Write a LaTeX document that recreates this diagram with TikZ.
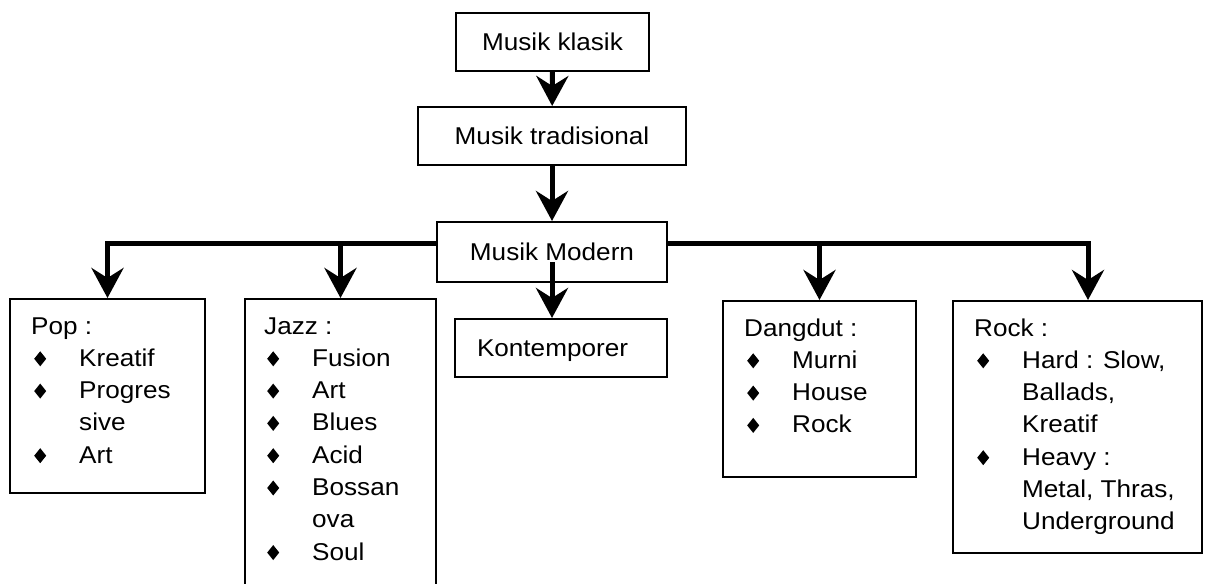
\documentclass[tikz,border=0pt]{standalone}
\usepackage{fontspec}
\usepackage{graphicx}
\setmainfont{Liberation Sans}[FakeStretch=1.075]
\usetikzlibrary{arrows.meta,calc}

% list helpers: diamond bullet, bulleted entry and indented continuation line
\newcommand\dmd{\scalebox{1}[1.25]{\rotatebox{45}{\rule{8.5pt}{8.5pt}}}}
\newcommand\bl[1]{\makebox[48pt][l]{\hspace{3pt}\dmd}#1}
\newcommand\cn[1]{\hspace{48pt}#1}

\tikzset{
  txt/.style={font=\fontsize{24.3}{32.3}\selectfont},
  box/.style={draw, line width=2pt, txt, text height=17.5pt, text depth=0pt,
              inner sep=0pt, minimum height=58pt},
  listbox/.style={draw, line width=2pt, inner sep=0pt},
  lst/.style={txt, inner sep=0pt, anchor=base west, align=left},
  arr/.style={line width=5pt,
              -{Stealth[length=30pt, width=32pt, inset=10pt]}},
}

\begin{document}
\begin{tikzpicture}[x=1pt, y=-1pt]
\useasboundingbox (0,0) rectangle (1211,584);
\clip (0,0) rectangle (1211,584);

% chain of main categories
\node[box, minimum width=193pt] (klasik) at (552.5,42) {Musik klasik};
\node[box, minimum width=268pt] (trad)   at (552,136)  {Musik tradisional};
\node[box, minimum width=230pt, minimum height=60pt] (modern) at (552,252) {Musik Modern};
\node[box, minimum width=212pt, text width=168pt, align=left, inner xsep=22pt]
     (kontemp) at (561,348) {Kontemporer};

% genre boxes
\node[listbox, minimum width=195pt, minimum height=194pt] (pop)     at (107.5,396) {};
\node[listbox, minimum width=191pt, minimum height=301pt] (jazz)    at (340.5,449.5) {};
\node[listbox, minimum width=193pt, minimum height=176pt] (dangdut) at (819.5,389) {};
\node[listbox, minimum width=249pt, minimum height=252pt] (rock)    at (1077.5,427) {};

\node[lst] (poptxt) at ($(pop.north west)+(22,36)$) {%
  \begin{tabular}[t]{@{}l@{}}
  Pop :\\ \bl{Kreatif}\\ \bl{Progres}\\ \cn{sive}\\ \bl{Art}
  \end{tabular}};
\node[lst] (jazztxt) at ($(jazz.north west)+(20,36)$) {%
  \begin{tabular}[t]{@{}l@{}}
  Jazz :\\ \bl{Fusion}\\ \bl{Art}\\ \bl{Blues}\\ \bl{Acid}\\ \bl{Bossan}\\ \cn{ova}\\ \bl{Soul}
  \end{tabular}};
\node[lst] (dangduttxt) at ($(dangdut.north west)+(22,36)$) {%
  \begin{tabular}[t]{@{}l@{}}
  Dangdut :\\ \bl{Murni}\\ \bl{House}\\ \bl{Rock}
  \end{tabular}};
\node[lst] (rocktxt) at ($(rock.north west)+(22,36)$) {%
  \begin{tabular}[t]{@{}l@{}}
  Rock :\\ \bl{Hard : Slow,}\\ \cn{Ballads,}\\ \cn{Kreatif}\\ \bl{Heavy :}\\ \cn{Metal, Thras,}\\ \cn{Underground}
  \end{tabular}};

% connectors
\coordinate (busL) at ($(modern.west)+(0,-9)$);
\coordinate (busR) at ($(modern.east)+(0,-9)$);
\coordinate (rockin) at ($(rock.north)+(10.5,0)$);

\draw[arr] (klasik) -- (trad);
\draw[arr] (trad) -- (modern);
\draw[arr] ($(modern.center)+(0,10)$) -- (modern.center |- kontemp.north);
\draw[arr] (busL) -| (pop.north);
\draw[arr] (busR) -| (rockin);
\draw[arr] (jazz.north |- busL) -- (jazz.north);
\draw[arr] (dangdut.north |- busR) -- (dangdut.north);
\end{tikzpicture}
\end{document}
